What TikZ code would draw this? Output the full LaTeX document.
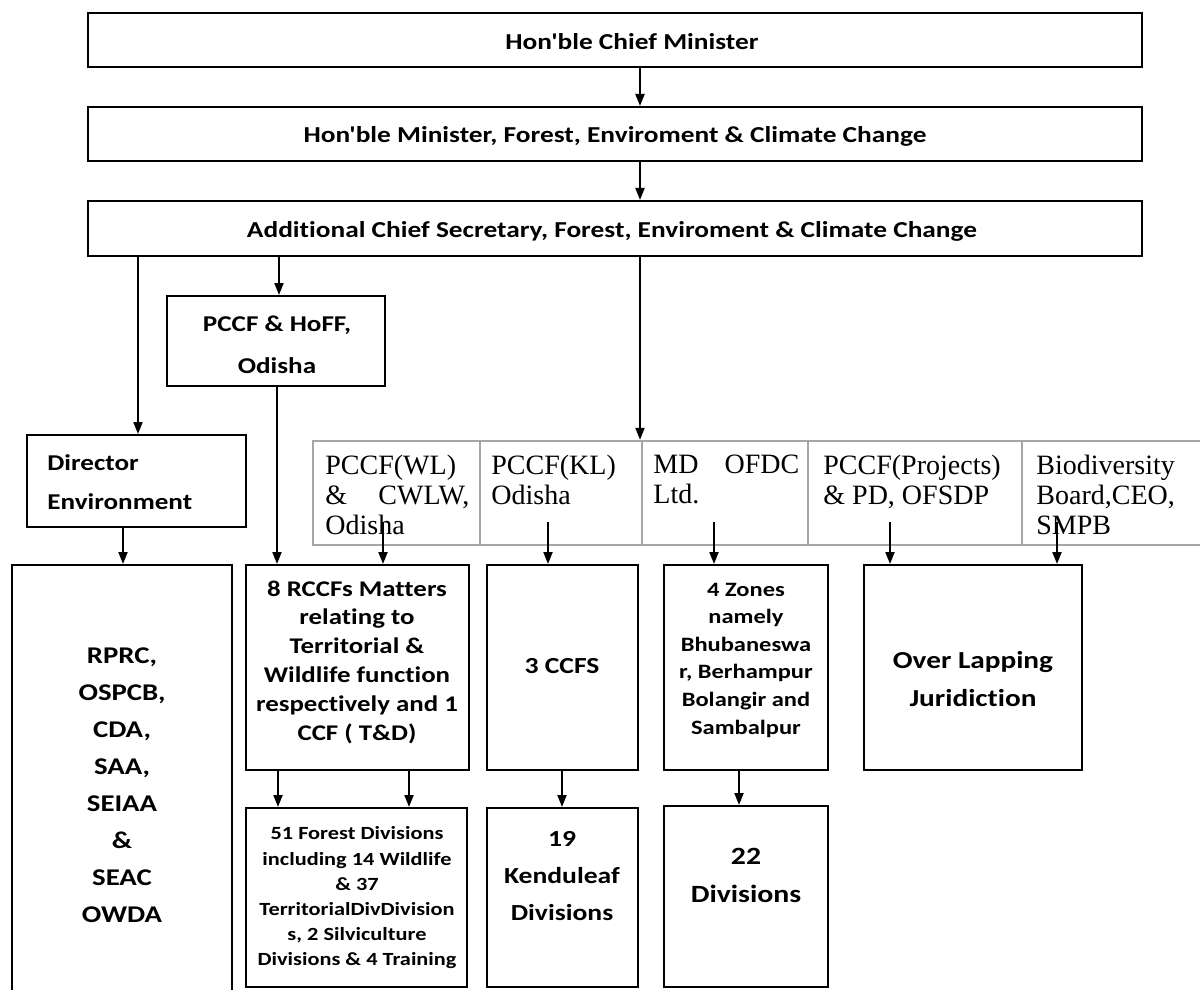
\documentclass[tikz,border=0pt]{standalone}
\usepackage{fontspec}
\setmainfont{Carlito}[FakeStretch=1.2,Ligatures={TeXOff,NoCommon}]
\newfontfamily\tabfont{Liberation Serif}
\usetikzlibrary{fit,arrows.meta}
\begin{document}
\begin{tikzpicture}[x=0.5pt,y=-0.5pt,
 box/.style={draw, line width=1pt, inner sep=0pt},
 txt/.style={inner sep=0pt, align=center, font=\bfseries},
 arr/.style={line width=1pt, -{Triangle[length=6pt,width=4.5pt]}},
 cell/.style={font=\tabfont\fontsize{14}{15}\selectfont, align=left, anchor=north west, inner sep=0pt},
 grid/.style={draw=gray!70, line width=1.2pt},
]
\useasboundingbox (0,0) rectangle (1200,990);
% top row boxes
\node[box, fit={(88,13)(1142,67)}] (cm) {};
\node[txt, font=\bfseries\fontsize{11.4}{13}\selectfont] (cmt) at (632,42) {Hon'ble Chief Minister};
\node[box, fit={(88,107)(1142,161)}] (mn) {};
\node[txt, font=\bfseries\fontsize{11.4}{13}\selectfont] (mnt) at (615,136) {Hon'ble Minister, Forest, Enviroment \& Climate Change};
\node[box, fit={(88,201)(1142,256)}] (acs) {};
\node[txt, font=\bfseries\fontsize{11.4}{13}\selectfont] (acst) at (612,231) {Additional Chief Secretary, Forest, Enviroment \& Climate Change};
% helper x-coordinates
\coordinate (x640) at (640,0);
\coordinate (x138) at (138,0);
\coordinate (x279) at (279,0);
\coordinate (x277) at (277,0);
\coordinate (x123) at (123,0);
\coordinate (x278) at (278,0);
\coordinate (x409) at (409,0);
\coordinate (x562) at (562,0);
\coordinate (x739) at (739,0);
% PCCF & HoFF
\node[box, fit={(167,296)(385,386)}] (pccf) {};
\node[txt, font=\bfseries\fontsize{11.3}{21}\selectfont] (pccft) at (277,345) {PCCF \& HoFF,\\Odisha};
% Director
\node[box, fit={(27,435)(246,527)}] (dir) {};
\node[txt, align=left, anchor=north west, font=\bfseries\fontsize{11.3}{19.5}\selectfont] (dirt) at (47,454) {Director\\Environment};
% table
\node[grid, inner sep=0pt, fit={(313,441)(1202,545)}] (tab) {};
\draw[grid] (480,441) -- (480,545);
\draw[grid] (642,441) -- (642,545);
\draw[grid] (808,441) -- (808,545);
\draw[grid] (1022,441) -- (1022,545);
\node[cell] (c1) at (325,455) {PCCF(WL)\\\hbox to 72pt{\&\hfill CWLW,}\\Odisha};
\node[cell] (c2) at (491,455) {PCCF(KL)\\Odisha};
\node[cell] (c3) at (653,455) {\hbox to 73pt{MD\hfill OFDC}\\Ltd.};
\node[cell] (c4) at (823,455) {PCCF(Projects)\\\&~PD, OFSDP};
\node[cell] (c5) at (1036,455) {Biodiversity\\Board,CEO,\\SMPB};
\coordinate (s1) at (383,522);
\coordinate (s2) at (548,522);
\coordinate (s3) at (714,522);
\coordinate (s4) at (890,522);
\coordinate (s5) at (1057,522);
% second level boxes
\node[box, fit={(12,565)(232,995)}] (rprc) {};
\node[txt, font=\bfseries\fontsize{12}{18.5}\selectfont] (rprct) at (122,785) {RPRC,\\OSPCB,\\CDA,\\SAA,\\SEIAA\\\&\\SEAC\\OWDA};
\node[box, fit={(246,565)(469,770)}] (rccf) {};
\node[txt, font=\bfseries\fontsize{11.2}{14.4}\selectfont] (rccft) at (357,662) {8 RCCFs Matters\\relating to\\Territorial \&\\Wildlife function\\respectively and 1\\CCF ( T\&D)};
\node[box, fit={(487,565)(638,770)}] (ccfs) {};
\node[txt, font=\bfseries\fontsize{11.5}{14}\selectfont] (ccfst) at (562,666) {3 CCFS};
\node[box, fit={(664,565)(828,770)}] (zon) {};
\node[txt, font=\bfseries\fontsize{10.2}{13.8}\selectfont] (zont) at (746,660) {4 Zones\\namely\\Bhubaneswa\\r, Berhampur\\Bolangir and\\Sambalpur};
\node[box, fit={(864,565)(1082,770)}] (ovl) {};
\node[txt, font=\bfseries\fontsize{12.2}{19}\selectfont] (ovlt) at (973,679) {Over Lapping\\Juridiction};
% third level
\node[box, fit={(246,808)(467,987)}] (fd) {};
\node[txt, font=\bfseries\fontsize{9.3}{12.6}\selectfont] (fdt) at (357,898) {51 Forest Divisions\\including 14 Wildlife\\\& 37\\TerritorialDivDivision\\s, 2 Silviculture\\Divisions \& 4 Training};
\node[box, fit={(487,808)(638,987)}] (kl) {};
\node[txt, font=\bfseries\fontsize{11.5}{18.5}\selectfont] (klt) at (562,876) {19\\Kenduleaf\\Divisions};
\node[box, fit={(664,806)(828,987)}] (dv) {};
\node[txt, font=\bfseries\fontsize{12.4}{19}\selectfont] (dvt) at (746,875) {22\\Divisions};
% connectors
\draw[arr] (cm.south -| x640) -- (mn.north -| x640);
\draw[arr] (mn.south -| x640) -- (acs.north -| x640);
\draw[arr] (acs.south -| x640) -- (tab.north -| x640);
\draw[arr] (acs.south -| x138) -- (dir.north -| x138);
\draw[arr] (acs.south -| x279) -- (pccf.north -| x279);
\draw[arr] (pccf.south -| x277) -- (rccf.north -| x277);
\draw[arr] (dir.south -| x123) -- (rprc.north -| x123);
\draw[arr] (s1) -- (rccf.north -| s1);
\draw[arr] (s2) -- (ccfs.north -| s2);
\draw[arr] (s3) -- (zon.north -| s3);
\draw[arr] (s4) -- (ovl.north -| s4);
\draw[arr] (s5) -- (ovl.north -| s5);
\draw[arr] (rccf.south -| x278) -- (fd.north -| x278);
\draw[arr] (rccf.south -| x409) -- (fd.north -| x409);
\draw[arr] (ccfs.south -| x562) -- (kl.north -| x562);
\draw[arr] (zon.south -| x739) -- (dv.north -| x739);
\end{tikzpicture}
\end{document}
